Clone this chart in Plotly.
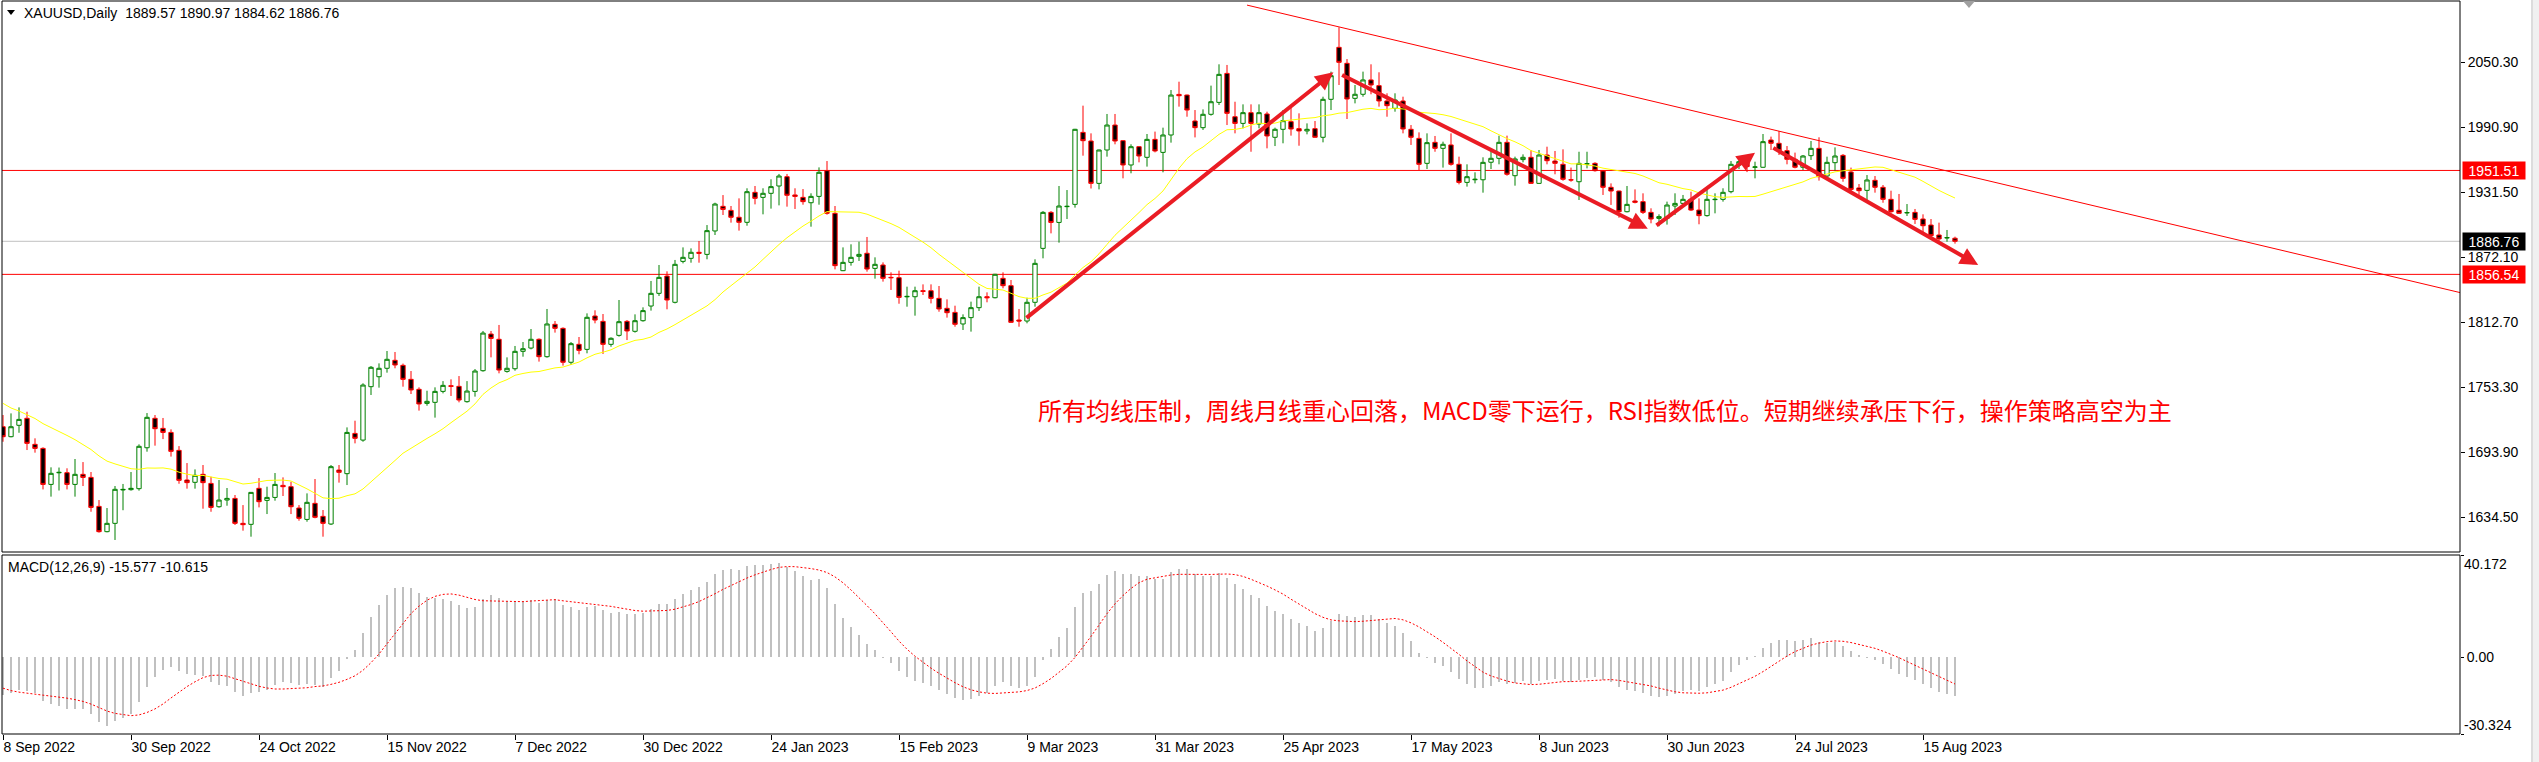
import pandas as pd
import plotly.graph_objects as go

# ---------------------------------------------------------------- page geometry
W, H = 2539, 762
ML, MR, MT, MB = 2, 79, 1, 28
PW = W - ML - MR
PH = H - MT - MB


def fx(x):
    """pixel column -> paper x"""
    return (x - ML) / PW


def fy(y):
    """pixel row -> paper y"""
    return (H - MB - y) / PH


FONT = "Liberation Sans"

# ---------------------------------------------------------------- data
header_text = "XAUUSD,Daily  1889.57 1890.97 1884.62 1886.76"
macd_text = "MACD(12,26,9) -15.577 -10.615"
note_text = "所有均线压制，周线月线重心回落，MACD零下运行，RSI指数低位。短期继续承压下行，操作策略高空为主"

tick_labels = ["8 Sep 2022", "30 Sep 2022", "24 Oct 2022", "15 Nov 2022", "7 Dec 2022",
               "30 Dec 2022", "24 Jan 2023", "15 Feb 2023", "9 Mar 2023", "31 Mar 2023",
               "25 Apr 2023", "17 May 2023", "8 Jun 2023", "30 Jun 2023", "24 Jul 2023",
               "15 Aug 2023"]
bars_per_tick = 16

price_ticks = [2050.30, 1990.90, 1931.50, 1872.10, 1812.70, 1753.30, 1693.90, 1634.50]
macd_ticks = [40.172, 0.0, -30.324]
level_lines = [1951.51, 1856.54]
last_price = 1886.76

# closes before the first visible bar, only used to warm up the indicators
history_close = [1819, 1808, 1834, 1857, 1840, 1839, 1832, 1838, 1822, 1827, 1823, 1820, 1818,
                 1807, 1811, 1808, 1764, 1739, 1740, 1742, 1733, 1725, 1735, 1709, 1708, 1709,
                 1711, 1696, 1718, 1727, 1719, 1717, 1734, 1756, 1766, 1772, 1760, 1765, 1791,
                 1775, 1789, 1794, 1792, 1789, 1802, 1779, 1776, 1761, 1758, 1747, 1736, 1748,
                 1751, 1758, 1737, 1738, 1724, 1711, 1697, 1712, 1710, 1702, 1718]

open_ = [1717.3, 1708.2, 1718.6, 1725.0, 1701.2, 1697.5, 1664.6, 1675.2, 1675.3, 1664.6,
         1673.8, 1671.0, 1644.5, 1621.4, 1629.0, 1659.5, 1659.8, 1660.7, 1698.1, 1725.0,
         1715.8, 1712.1, 1695.7, 1668.6, 1666.5, 1673.8, 1665.5, 1644.2, 1650.3, 1651.8,
         1629.0, 1628.1, 1661.0, 1650.0, 1652.7, 1663.7, 1662.5, 1643.0, 1632.6, 1647.3,
         1635.4, 1628.4, 1677.7, 1674.4, 1711.2, 1705.1, 1753.9, 1763.0, 1770.7, 1778.0,
         1773.4, 1760.6, 1751.5, 1738.6, 1739.6, 1749.6, 1754.8, 1754.2, 1740.2, 1749.6,
         1768.5, 1802.0, 1797.2, 1767.9, 1770.3, 1786.2, 1789.2, 1797.2, 1781.3, 1810.9,
         1807.2, 1776.2, 1792.6, 1788.0, 1818.5, 1813.6, 1792.6, 1800.8, 1813.6, 1804.5,
         1814.2, 1827.6, 1839.2, 1855.0, 1831.0, 1868.4, 1871.2, 1876.7, 1874.8, 1896.2,
         1918.7, 1915.0, 1908.7, 1904.1, 1931.5, 1926.9, 1930.6, 1937.3, 1945.8, 1929.1,
         1926.9, 1922.0, 1927.8, 1951.3, 1912.3, 1859.9, 1867.5, 1873.0, 1875.8, 1862.0,
         1865.1, 1853.8, 1853.5, 1836.0, 1836.1, 1841.6, 1841.6, 1834.6, 1825.5, 1821.8,
         1811.2, 1817.0, 1826.1, 1836.1, 1835.2, 1852.9, 1846.2, 1814.8, 1813.9, 1831.0,
         1880.3, 1913.2, 1904.0, 1918.4, 1920.5, 1986.3, 1978.4, 1939.7, 1970.2, 1993.0,
         1978.7, 1956.5, 1973.2, 1963.5, 1979.9, 1968.0, 1983.9, 2021.0, 2020.4, 1996.7,
         1990.6, 2002.8, 2013.7, 2040.2, 2000.6, 1994.5, 2004.3, 1993.9, 2003.1, 1981.8,
         1989.1, 1996.1, 1989.7, 1987.6, 1989.7, 1981.8, 2016.5, 2064.0, 2049.4, 2017.4,
         2021.1, 2034.2, 2029.0, 2015.0, 2008.2, 2015.0, 1989.1, 1980.8, 1958.0, 1977.2,
         1971.7, 1974.8, 1957.1, 1940.6, 1943.0, 1943.0, 1959.0, 1962.6, 1977.2, 1946.7,
         1961.4, 1963.5, 1939.7, 1965.6, 1960.1, 1957.1, 1943.0, 1941.2, 1957.4, 1958.0,
         1951.0, 1936.1, 1932.7, 1913.8, 1923.6, 1923.0, 1913.2, 1907.7, 1907.7, 1919.0,
         1921.4, 1925.1, 1915.3, 1910.2, 1924.8, 1925.1, 1932.1, 1956.5, 1959.5, 1954.4,
         1954.4, 1979.3, 1976.3, 1969.6, 1961.7, 1954.4, 1965.0, 1971.7, 1946.4, 1958.6,
         1965.3, 1950.1, 1935.5, 1933.3, 1942.5, 1936.1, 1925.1, 1915.1, 1912.7, 1913.2,
         1907.1, 1901.6, 1892.5, 1889.8, 1889.57]

high = [1728.0, 1729.5, 1735.0, 1731.0, 1706.7, 1698.5, 1680.2, 1680.0, 1679.3, 1687.8,
        1685.0, 1675.9, 1650.3, 1643.0, 1663.1, 1665.0, 1675.9, 1701.2, 1729.8, 1728.0,
        1725.3, 1714.9, 1699.6, 1684.1, 1678.3, 1682.3, 1671.6, 1668.6, 1661.3, 1654.9,
        1645.7, 1657.6, 1670.4, 1662.5, 1675.0, 1671.0, 1667.0, 1645.7, 1656.4, 1669.5,
        1641.2, 1682.3, 1682.3, 1716.7, 1722.8, 1757.0, 1772.8, 1775.2, 1786.5, 1785.6,
        1775.0, 1768.2, 1753.3, 1750.2, 1753.3, 1759.0, 1760.6, 1763.6, 1759.0, 1770.0,
        1804.8, 1804.8, 1810.3, 1780.7, 1791.1, 1794.7, 1806.6, 1798.0, 1824.9, 1813.9,
        1808.1, 1794.7, 1799.3, 1820.9, 1823.7, 1820.3, 1799.0, 1833.1, 1814.8, 1820.0,
        1826.4, 1850.5, 1865.1, 1859.3, 1869.7, 1881.2, 1880.3, 1887.0, 1901.6, 1922.0,
        1929.0, 1919.0, 1926.0, 1935.2, 1937.3, 1935.2, 1943.4, 1948.3, 1948.3, 1935.2,
        1934.5, 1930.6, 1954.3, 1960.1, 1919.0, 1881.2, 1884.0, 1886.4, 1890.7, 1872.1,
        1867.5, 1858.4, 1859.9, 1845.3, 1845.3, 1847.4, 1847.4, 1845.9, 1833.7, 1827.9,
        1820.0, 1831.6, 1845.3, 1840.1, 1857.0, 1858.4, 1851.4, 1824.9, 1835.2, 1870.3,
        1914.4, 1914.4, 1937.3, 1933.6, 1989.5, 2010.7, 1985.4, 1970.5, 2003.1, 2003.1,
        1979.0, 1975.4, 1973.5, 1984.8, 1987.0, 1990.6, 2025.0, 2032.6, 2020.8, 2006.7,
        2007.3, 2029.0, 2048.5, 2047.9, 2014.3, 2011.9, 2011.9, 2011.9, 2005.2, 1990.6,
        2006.7, 2008.9, 2003.7, 1994.5, 1996.7, 2018.9, 2041.8, 2082.3, 2053.3, 2029.6,
        2041.8, 2048.5, 2041.2, 2022.0, 2022.0, 2018.9, 1993.0, 1986.3, 1985.4, 1983.0,
        1977.8, 1985.4, 1964.1, 1957.1, 1949.8, 1963.5, 1969.3, 1983.3, 1983.3, 1964.1,
        1966.2, 1970.2, 1970.2, 1973.2, 1969.3, 1970.8, 1954.1, 1968.6, 1968.6, 1959.0,
        1951.9, 1939.7, 1933.0, 1937.3, 1934.2, 1930.6, 1916.9, 1911.4, 1923.0, 1930.6,
        1929.1, 1932.1, 1926.0, 1935.2, 1930.6, 1935.2, 1960.1, 1962.6, 1964.0, 1959.5,
        1984.8, 1982.4, 1987.6, 1973.8, 1967.8, 1965.6, 1978.4, 1981.8, 1964.1, 1972.6,
        1966.5, 1954.1, 1939.1, 1947.3, 1946.4, 1938.2, 1933.0, 1930.0, 1920.8, 1916.3,
        1911.4, 1907.1, 1903.8, 1897.1, 1890.97]

low = [1703.6, 1707.6, 1711.8, 1696.0, 1693.6, 1660.0, 1653.4, 1659.0, 1660.0, 1653.4,
       1663.1, 1639.6, 1620.5, 1620.8, 1613.8, 1641.0, 1658.9, 1658.9, 1694.5, 1700.0,
       1706.0, 1690.0, 1665.2, 1660.7, 1660.7, 1642.4, 1639.6, 1643.3, 1645.1, 1627.5,
       1622.3, 1616.8, 1643.6, 1637.5, 1649.7, 1654.0, 1637.5, 1631.4, 1630.5, 1633.6,
       1616.8, 1627.5, 1666.2, 1664.0, 1702.1, 1703.6, 1746.3, 1753.0, 1766.7, 1770.7,
       1753.9, 1747.2, 1732.0, 1736.5, 1725.6, 1747.8, 1745.4, 1739.6, 1739.3, 1744.8,
       1767.6, 1780.7, 1766.1, 1766.7, 1768.5, 1781.3, 1788.0, 1776.8, 1780.4, 1803.3,
       1773.1, 1773.7, 1783.5, 1784.4, 1811.8, 1783.8, 1790.4, 1799.6, 1796.5, 1803.3,
       1813.3, 1823.4, 1836.8, 1824.6, 1830.0, 1866.6, 1867.2, 1867.2, 1870.3, 1892.5,
       1910.8, 1903.8, 1896.5, 1901.0, 1920.5, 1911.4, 1916.6, 1919.6, 1918.4, 1916.3,
       1920.2, 1900.1, 1920.2, 1911.1, 1861.1, 1859.5, 1864.5, 1868.8, 1859.0, 1852.6,
       1849.9, 1842.3, 1829.7, 1827.0, 1818.8, 1837.7, 1830.0, 1822.4, 1817.0, 1808.7,
       1805.7, 1804.2, 1823.1, 1831.0, 1834.6, 1843.8, 1812.4, 1808.7, 1811.8, 1827.0,
       1871.2, 1894.0, 1885.5, 1907.1, 1917.5, 1965.0, 1935.0, 1934.2, 1964.1, 1975.4,
       1944.3, 1948.9, 1958.9, 1955.0, 1968.0, 1949.8, 1976.9, 2009.8, 2000.6, 1981.7,
       1988.5, 2001.6, 2011.3, 1993.0, 1985.4, 1990.0, 1968.6, 1990.0, 1971.7, 1973.8,
       1976.3, 1983.3, 1974.1, 1984.5, 1981.5, 1977.2, 2006.7, 2029.6, 1998.5, 2012.8,
       2018.9, 2021.1, 2009.8, 2000.6, 2005.2, 1985.4, 1974.8, 1951.9, 1952.8, 1968.6,
       1954.1, 1955.9, 1938.8, 1936.7, 1939.7, 1931.2, 1952.8, 1957.1, 1946.7, 1937.6,
       1958.9, 1939.4, 1939.4, 1957.1, 1948.0, 1942.1, 1941.2, 1924.5, 1953.4, 1950.4,
       1929.1, 1920.0, 1908.3, 1913.2, 1921.4, 1911.7, 1903.2, 1900.5, 1902.0, 1910.8,
       1918.4, 1914.4, 1902.3, 1909.3, 1912.3, 1923.0, 1930.6, 1952.8, 1950.0, 1944.3,
       1954.0, 1970.2, 1965.6, 1957.1, 1953.4, 1951.9, 1961.1, 1942.2, 1944.3, 1951.3,
       1941.2, 1932.1, 1929.1, 1924.5, 1931.2, 1922.0, 1912.9, 1912.3, 1909.9, 1902.6,
       1894.6, 1890.4, 1886.4, 1886.4, 1884.62]

close = [1708.2, 1717.3, 1724.0, 1702.1, 1697.5, 1664.6, 1674.7, 1675.6, 1664.6, 1673.8,
         1671.0, 1643.6, 1621.4, 1629.0, 1660.1, 1660.0, 1661.0, 1699.4, 1725.9, 1715.5,
         1712.1, 1694.8, 1668.3, 1666.2, 1672.9, 1666.2, 1643.6, 1650.3, 1651.8, 1629.0,
         1627.8, 1657.3, 1648.8, 1652.7, 1664.6, 1662.5, 1644.2, 1633.6, 1648.2, 1634.5,
         1629.0, 1680.8, 1675.6, 1712.1, 1706.7, 1755.4, 1771.6, 1770.7, 1778.9, 1773.7,
         1760.6, 1750.9, 1738.1, 1740.5, 1749.6, 1755.1, 1754.2, 1741.7, 1749.9, 1768.2,
         1802.9, 1798.0, 1769.1, 1770.7, 1786.2, 1788.6, 1797.2, 1781.3, 1811.2, 1807.2,
         1776.2, 1793.2, 1787.1, 1817.3, 1814.8, 1792.6, 1798.1, 1813.3, 1804.8, 1814.2,
         1823.4, 1839.2, 1853.8, 1833.1, 1865.7, 1872.1, 1876.7, 1875.8, 1896.5, 1920.8,
         1915.9, 1908.7, 1904.1, 1932.1, 1926.0, 1930.6, 1936.7, 1946.4, 1928.8, 1927.8,
         1923.0, 1927.8, 1949.8, 1912.3, 1864.5, 1867.5, 1872.1, 1874.8, 1861.4, 1865.7,
         1852.9, 1853.5, 1835.5, 1836.4, 1841.6, 1841.0, 1834.6, 1824.9, 1821.5, 1810.9,
         1817.0, 1826.1, 1836.1, 1835.2, 1856.6, 1846.2, 1812.7, 1813.9, 1831.0, 1866.6,
         1913.2, 1904.0, 1919.0, 1918.7, 1989.1, 1978.7, 1939.7, 1970.2, 1993.0, 1978.4,
         1956.5, 1973.2, 1964.7, 1979.9, 1969.3, 1983.9, 2020.4, 2019.8, 2006.7, 1990.6,
         2002.8, 2014.3, 2039.3, 2003.7, 1994.5, 2004.3, 1994.5, 2004.3, 1983.0, 1989.1,
         1997.0, 1989.4, 1987.6, 1989.1, 1981.8, 2016.5, 2038.1, 2050.3, 2016.8, 2021.1,
         2034.2, 2029.6, 2015.0, 2010.7, 2015.9, 1989.4, 1981.8, 1957.1, 1976.9, 1971.7,
         1975.4, 1957.1, 1940.6, 1945.8, 1943.4, 1958.9, 1962.6, 1977.2, 1948.0, 1962.0,
         1963.5, 1939.7, 1965.6, 1960.4, 1958.0, 1943.4, 1942.8, 1958.0, 1957.6, 1951.3,
         1936.1, 1932.7, 1913.8, 1920.5, 1922.4, 1913.2, 1907.1, 1909.3, 1919.9, 1921.4,
         1925.1, 1915.3, 1910.2, 1925.1, 1925.1, 1931.5, 1957.1, 1959.5, 1955.0, 1954.7,
         1977.8, 1976.3, 1969.6, 1961.7, 1954.4, 1964.7, 1971.7, 1945.8, 1958.9, 1964.7,
         1944.3, 1934.2, 1933.0, 1942.8, 1936.1, 1925.1, 1913.8, 1912.3, 1913.0, 1906.8,
         1901.0, 1891.9, 1888.9, 1890.1, 1886.76]

# hand-drawn trend line and arrows, anchored at (bar number, price)
trend_anchor = [(155.5, 2102.6), (307.125, 1839.9)]
arrow_paths = [((127.75, 1815.7), (166.3, 2041.2)),
               ((167.2, 2039.4), (205.6, 1898.2)),
               ((206.5, 1900.2), (219.0, 1967.7)),
               ((221.1, 1972.9), (246.9, 1865.1))]
note_anchor = (129.1, 1732.6)

price_range = [1602.82, 2106.35]
macd_range = [-30.324, 40.172]
bar_range = [-0.125, 307.125]

# ---------------------------------------------------------------- indicators
n = len(close)
bars = list(range(n))
series = pd.Series(history_close + close, dtype=float)
ma20 = series.rolling(20).mean().to_numpy()[-n:]
ema_fast = series.ewm(span=12, adjust=False).mean()
ema_slow = series.ewm(span=26, adjust=False).mean()
macd_all = ema_fast - ema_slow
signal_all = macd_all.rolling(9).mean()
macd = macd_all.to_numpy()[-n:]
signal = signal_all.to_numpy()[-n:]

# ---------------------------------------------------------------- figure
GREEN, RED = "#008000", "#FF0000"
fig = go.Figure()

fig.add_trace(go.Candlestick(
    x=bars, open=open_, high=high, low=low, close=close,
    increasing=dict(line=dict(color=GREEN, width=1), fillcolor="#FFFFFF"),
    decreasing=dict(line=dict(color=RED, width=1), fillcolor="#000000"),
    whiskerwidth=0, xaxis="x", yaxis="y", hoverinfo="skip", showlegend=False))

fig.add_trace(go.Scatter(x=bars, y=ma20, mode="lines", xaxis="x", yaxis="y",
                         line=dict(color="#FFFF00", width=1), hoverinfo="skip",
                         showlegend=False))

fig.add_trace(go.Bar(x=bars, y=macd, width=0.18, marker=dict(color="#C0C0C0", line=dict(width=0)),
                     xaxis="x", yaxis="y2", hoverinfo="skip", showlegend=False))
fig.add_trace(go.Scatter(x=bars, y=signal, mode="lines", xaxis="x", yaxis="y2",
                         line=dict(color=RED, width=1, dash="2px,2px"), hoverinfo="skip",
                         showlegend=False))

shapes = []
# horizontal levels and current price line
for lv in level_lines:
    shapes.append(dict(type="line", xref="x domain", yref="y", x0=0, x1=1, y0=lv, y1=lv,
                       line=dict(color=RED, width=1), layer="below"))
shapes.append(dict(type="line", xref="x domain", yref="y", x0=0, x1=1, y0=last_price,
                   y1=last_price, line=dict(color="#C0C0C0", width=1), layer="below"))
# trend line
(tx0, ty0), (tx1, ty1) = trend_anchor
shapes.append(dict(type="line", xref="x", yref="y", x0=tx0, y0=ty0, x1=tx1, y1=ty1,
                   line=dict(color=RED, width=1)))
# panel frames
shapes.append(dict(type="rect", xref="paper", yref="paper", x0=0, x1=1, y0=fy(552), y1=fy(1),
                   line=dict(color="#000000", width=1)))
shapes.append(dict(type="rect", xref="paper", yref="paper", x0=0, x1=1, y0=fy(734), y1=fy(555),
                   line=dict(color="#000000", width=1)))
# symbol menu marker and chart-shift marker
shapes.append(dict(type="path", xref="paper", yref="paper",
                   path=f"M{fx(7)},{fy(10)} L{fx(15)},{fy(10)} L{fx(11)},{fy(15)} Z",
                   fillcolor="#000000", line=dict(width=0)))
shapes.append(dict(type="path", xref="paper", yref="paper",
                   path=f"M{fx(1963)},{fy(1)} L{fx(1975)},{fy(1)} L{fx(1969)},{fy(8)} Z",
                   fillcolor="#A0A0A0", line=dict(width=0)))
# window scroll strip on the right
shapes.append(dict(type="rect", xref="paper", yref="paper", x0=fx(2531), x1=fx(2540),
                   y0=fy(763), y1=fy(-1), fillcolor="#F0F0F0", line=dict(width=0)))
shapes.append(dict(type="line", xref="paper", yref="paper", x0=fx(2532), x1=fx(2532),
                   y0=fy(763), y1=fy(-1), line=dict(color="#C8C8C8", width=1)))

annotations = []
annotations.append(dict(xref="paper", yref="paper", x=fx(22), y=fy(13), xanchor="left",
                        yanchor="middle", text=header_text, showarrow=False,
                        font=dict(family=FONT, size=14, color="#000000")))
annotations.append(dict(xref="paper", yref="paper", x=fx(6), y=fy(567), xanchor="left",
                        yanchor="middle", text=macd_text, showarrow=False,
                        font=dict(family=FONT, size=14, color="#000000")))
annotations.append(dict(xref="x", yref="y", x=note_anchor[0], y=note_anchor[1], xanchor="left",
                        yanchor="middle", text=note_text, showarrow=False,
                        font=dict(family="Noto Sans CJK SC", size=24, color=RED)))
# price labels on the right scale
for val, bg in [(level_lines[0], RED), (level_lines[1], RED), (last_price, "#000000")]:
    annotations.append(dict(xref="paper", yref="y", x=1, y=val, xanchor="left", yanchor="middle",
                            xshift=2, text=f"{val:.2f}", showarrow=False, bgcolor=bg,
                            width=60, height=15, borderpad=1, align="center",
                            font=dict(family=FONT, size=14, color="#FFFFFF")))
# indicator window scale edges
annotations.append(dict(xref="paper", yref="y2", x=1, y=macd_ticks[0], xanchor="left",
                        yanchor="top", xshift=3, text=f"{macd_ticks[0]:.3f}", showarrow=False,
                        borderpad=0, font=dict(family=FONT, size=14, color="#000000")))
annotations.append(dict(xref="paper", yref="y2", x=1, y=macd_ticks[2], xanchor="left",
                        yanchor="bottom", xshift=3, text=f"{macd_ticks[2]:.3f}", showarrow=False,
                        borderpad=0, font=dict(family=FONT, size=14, color="#000000")))
# arrows
for (sx, sy), (ex, ey) in arrow_paths:
    annotations.append(dict(xref="x", yref="y", axref="x", ayref="y", x=ex, y=ey, ax=sx, ay=sy,
                            text="", showarrow=True, arrowhead=2, arrowsize=0.9, arrowwidth=4,
                            arrowcolor="#EA1C24", standoff=0, startstandoff=0))

fig.update_layout(
    width=W, height=H, margin=dict(l=ML, r=MR, t=MT, b=MB, autoexpand=False),
    paper_bgcolor="#FFFFFF", plot_bgcolor="#FFFFFF", showlegend=False,
    boxgap=0.46, boxgroupgap=0, bargap=0,
    xaxis=dict(domain=[0, 1], anchor="y2", range=bar_range, rangeslider=dict(visible=False),
               tickvals=bars[::bars_per_tick], ticktext=tick_labels, ticks="outside", ticklen=5,
               tickcolor="#000000", tickwidth=1, ticklabelposition="outside right",
               showgrid=False, zeroline=False, showline=False,
               tickfont=dict(family=FONT, size=14, color="#000000")),
    yaxis=dict(domain=[fy(552), 1], anchor="x", side="right", range=price_range,
               tickvals=price_ticks, ticktext=[f"{v:.2f}" for v in price_ticks], ticks="outside",
               ticklen=4, tickcolor="#000000", showgrid=False, zeroline=False, showline=False,
               tickfont=dict(family=FONT, size=14, color="#000000")),
    yaxis2=dict(domain=[0, fy(555)], anchor="x", side="right", range=macd_range,
                tickvals=macd_ticks, ticktext=["", "0.00", ""], ticks="outside", ticklen=3,
                tickcolor="#000000", showgrid=False, zeroline=False, showline=False,
                tickfont=dict(family=FONT, size=14, color="#000000")),
    shapes=shapes, annotations=annotations,
)

fig.write_html("out.html")
